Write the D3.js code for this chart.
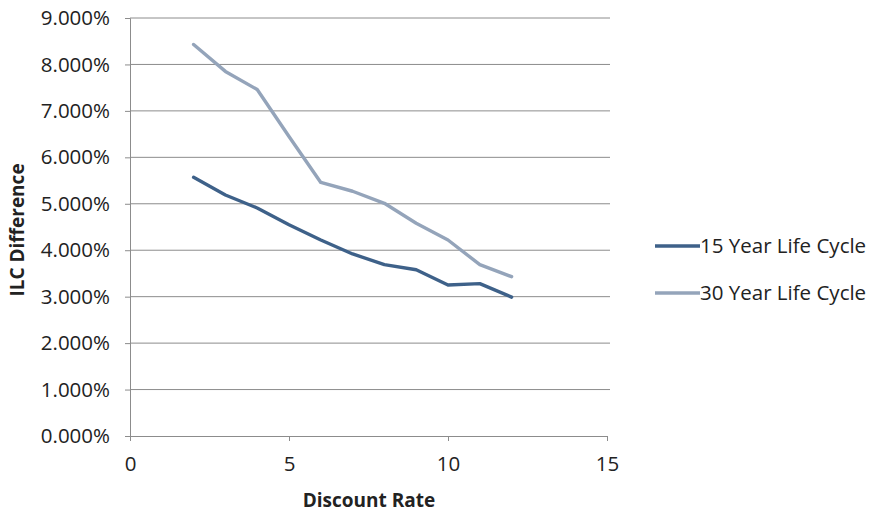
<!DOCTYPE html>
<html>
<head>
<meta charset="utf-8">
<script src="https://cdn.jsdelivr.net/npm/d3@7"></script>
<style>
  html, body { margin: 0; padding: 0; background: #fff; }
  svg { display: block; }
  text { font-family: "Open Sans", "Liberation Sans", sans-serif; fill: #222; }
</style>
</head>
<body>
<svg id="chart" width="873" height="516"></svg>
<script>
// Discount rates (x) and ILC difference in percent for each life cycle
const discountRates = [2, 3, 4, 5, 6, 7, 8, 9, 10, 11, 12];
const ilc15 = [5.57, 5.19, 4.91, 4.55, 4.22, 3.92, 3.69, 3.58, 3.25, 3.28, 2.99];
const ilc30 = [8.43, 7.85, 7.46, 6.45, 5.46, 5.27, 5.01, 4.58, 4.22, 3.69, 3.43];
const seriesNames = ["15 Year Life Cycle", "30 Year Life Cycle"];
const seriesColors = ["#3e6189", "#94a4ba"];
const yTicks = [0, 1, 2, 3, 4, 5, 6, 7, 8, 9];
const xTicks = [0, 5, 10, 15];

const svg = d3.select("#chart");
const plot = { left: 130, right: 607, top: 18, bottom: 436 };
const labelSize = 20.5;

const x = d3.scaleLinear().domain([0, 15]).range([plot.left, plot.right]);
const y = d3.scaleLinear().domain([0, 9]).range([plot.bottom, plot.top]);

// horizontal gridlines
svg.append("g").selectAll("line").data(yTicks.filter(d => d > 0)).join("line")
  .attr("x1", plot.left).attr("x2", plot.right + 3)
  .attr("y1", d => y(d)).attr("y2", d => y(d))
  .attr("stroke", "#8c8c8c").attr("stroke-width", 1);

// y axis
const yAxis = svg.append("g").attr("transform", `translate(${plot.left},0)`)
  .call(d3.axisLeft(y).tickValues(yTicks).tickSize(5).tickPadding(15)
    .tickFormat(d => d.toFixed(3) + "%"));
yAxis.select(".domain").attr("stroke", "#8c8c8c");
yAxis.selectAll(".tick line").attr("stroke", "#8c8c8c");
yAxis.selectAll("text").attr("font-size", labelSize).attr("fill", "#222")
  .style("font-family", "'Open Sans', sans-serif");

// x axis
const xAxis = svg.append("g").attr("transform", `translate(0,${plot.bottom})`)
  .call(d3.axisBottom(x).tickValues(xTicks).tickSize(5).tickPadding(15));
xAxis.select(".domain").attr("stroke", "#8c8c8c");
xAxis.selectAll(".tick line").attr("stroke", "#8c8c8c");
xAxis.selectAll("text").attr("font-size", labelSize).attr("fill", "#222")
  .style("font-family", "'Open Sans', sans-serif");

// series lines
const line = d3.line().x((d, i) => x(discountRates[i])).y(d => y(d));
[ilc15, ilc30].forEach((vals, k) => {
  svg.append("path").datum(vals)
    .attr("d", line)
    .attr("fill", "none")
    .attr("stroke", seriesColors[k])
    .attr("stroke-width", 3.4)
    .attr("stroke-linejoin", "round")
    .attr("stroke-linecap", "round");
});

// axis titles
svg.append("text")
  .attr("x", 369).attr("y", 507)
  .attr("text-anchor", "middle").attr("font-size", 19).attr("font-weight", "bold")
  .text("Discount Rate");
svg.append("text")
  .attr("transform", `translate(24,${(plot.top + plot.bottom) / 2 + 3}) rotate(-90)`)
  .attr("text-anchor", "middle").attr("font-size", 19).attr("font-weight", "bold")
  .text("ILC Difference");

// legend
const legend = svg.append("g").attr("transform", "translate(655,246)");
seriesNames.forEach((name, k) => {
  const g = legend.append("g").attr("transform", `translate(0,${k * 47})`);
  g.append("line").attr("x1", 0).attr("x2", 45).attr("y1", 0).attr("y2", 0)
    .attr("stroke", seriesColors[k]).attr("stroke-width", 3.4);
  g.append("text").attr("x", 45).attr("y", 0).attr("dy", "0.35em")
    .attr("font-size", labelSize).text(name);
});
</script>
</body>
</html>
